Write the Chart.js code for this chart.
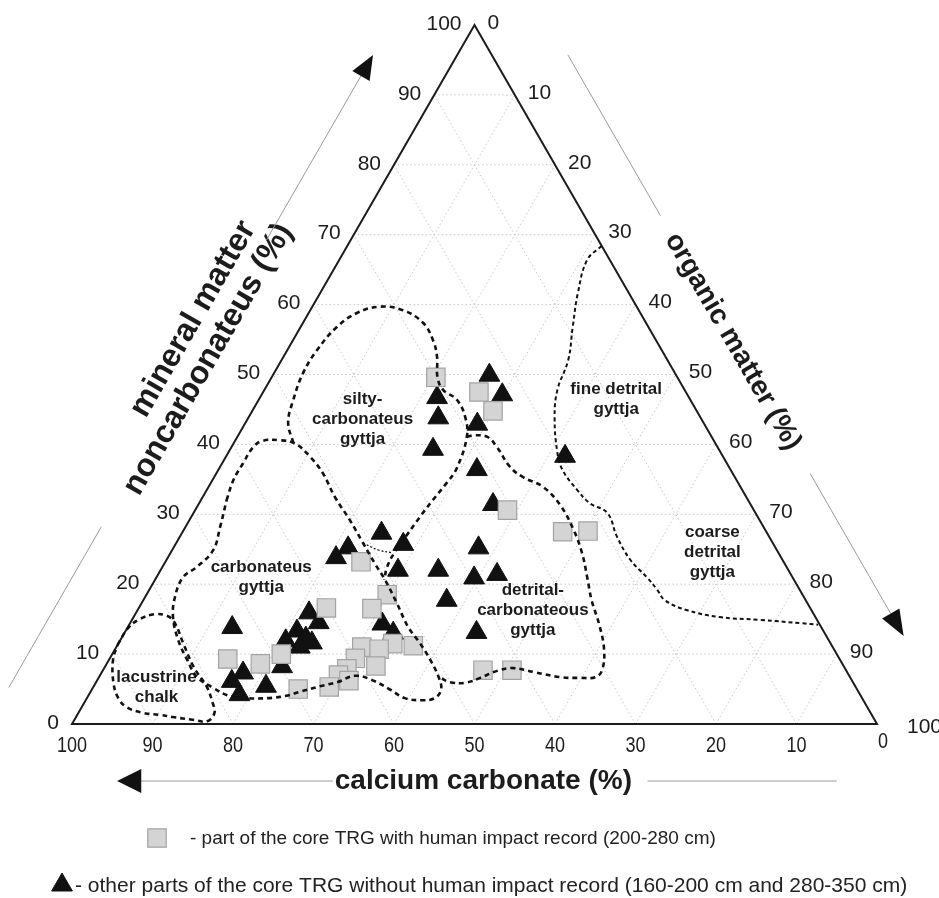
<!DOCTYPE html>
<html>
<head>
<meta charset="utf-8">
<title>Ternary diagram TRG core</title>
<script src="https://cdn.jsdelivr.net/npm/chart.js@4.4.1/dist/chart.umd.min.js"></script>
<style>
  html, body { margin: 0; padding: 0; background: #fff; }
  #c { display: block; }
</style>
</head>
<body>
<canvas id="c" width="939" height="898"></canvas>
<script>
"use strict";

// ── data: mineral matter (%) and organic matter (%) ; CaCO3 = 100 - both ──
const TICKS = [0, 10, 20, 30, 40, 50, 60, 70, 80, 90, 100];

// squares - part of the core with human impact record (200-280 cm)
const humanMineral = [49.6, 47.5, 44.8, 30.6, 27.5, 27.6, 23.2, 18.5, 16.5, 16.6, 10.0, 9.3, 8.6,
  5.0, 11.5, 11.2, 11.0, 10.7, 9.4, 8.3, 7.9, 7.0, 6.2, 5.3, 7.7, 7.7];
const humanOrganic = [20.4, 26.8, 29.9, 38.8, 47.2, 50.3, 24.3, 29.9, 29.0, 23.3, 21.0, 14.7, 19.1,
  25.6, 34.1, 36.8, 30.5, 32.8, 30.5, 33.6, 30.2, 29.6, 31.3, 29.3, 47.2, 50.8];

// triangles - other parts of the core (160-200 cm and 280-350 cm)
const otherMineral = [49.9, 47.1, 46.7, 43.8, 42.9, 39.3, 38.3, 36.4, 31.4, 25.2, 22.0, 20.9, 21.4,
  17.7, 13.1, 27.3, 25.2, 23.8, 25.7, 22.0, 15.9, 13.8, 14.3, 13.0, 14.5, 13.3, 12.3, 11.9, 11.6,
  11.0, 8.2, 7.3, 6.1, 5.4, 4.2];
const otherOrganic = [26.9, 29.9, 22.0, 23.6, 28.9, 25.2, 42.1, 32.1, 36.6, 37.9, 34.5, 39.5, 42.1,
  37.7, 43.7, 24.8, 21.7, 20.9, 28.3, 29.5, 21.5, 13.0, 31.4, 33.4, 23.4, 21.3, 22.9, 20.6, 24.0,
  22.8, 22.0, 17.6, 16.8, 21.4, 18.7];

// field boundaries as [mineral, organic]
const siltyBoundary = [[40.2, 7.4], [43.1, 5.3], [46.4, 4.3], [50.2, 3.6], [53.5, 3.7], [56.8, 4.5],
  [58.8, 6.0], [59.7, 8.4], [59.2, 11.5], [57.4, 14.9], [54.9, 17.4], [52.5, 19.1], [49.6, 20.6],
  [47.8, 22.2], [46.4, 24.6], [43.9, 26.9], [41.1, 28.5], [36.6, 29.5], [34.5, 29.3], [32.0, 28.8],
  [29.6, 28.4], [27.2, 28.1], [24.9, 27.8], [22.5, 27.9], [20.6, 28.5]];
const carbonateusBoundary = [[32.0, 3.2], [34.9, 2.6], [37.3, 2.6], [39.6, 2.7], [40.5, 3.4], [40.6, 5.5],
  [40.1, 7.7], [38.2, 10.5], [35.9, 13.2], [32.5, 16.4], [29.2, 19.9], [26.0, 23.1], [23.0, 26.1],
  [20.6, 28.6], [17.3, 31.7], [13.9, 34.8], [11.6, 37.4], [9.2, 39.9], [6.7, 42.2], [4.9, 43.4],
  [3.7, 43.2], [3.4, 41.8], [3.7, 39.5], [4.9, 37.1], [6.3, 34.1], [6.9, 31.7], [6.0, 30.0],
  [5.4, 28.1], [4.6, 26.0], [4.0, 24.5], [3.7, 22.4], [3.7, 19.9], [4.1, 17.3], [5.2, 14.9],
  [6.7, 12.2], [9.2, 9.7], [12.0, 7.2], [15.3, 4.9], [18.2, 3.7], [21.0, 3.3], [22.5, 4.3],
  [24.9, 5.1], [28.2, 4.3], [32.0, 3.2]];
const detritalCarbBoundary = [[41.1, 28.5], [41.3, 29.4], [41.1, 31.0], [39.6, 33.0], [36.8, 36.0],
  [35.3, 38.4], [33.9, 41.6], [31.3, 45.0], [27.8, 48.4], [24.5, 51.1], [21.0, 53.5], [17.7, 55.7],
  [14.2, 58.4], [10.6, 60.8], [7.7, 62.0], [6.7, 61.7], [6.6, 59.8], [6.7, 57.3], [7.4, 53.8],
  [8.0, 50.8], [7.6, 49.0], [6.6, 47.4], [5.9, 45.9], [6.0, 43.9], [6.6, 42.5]];
const fineDetritalBoundary = [[68.4, 31.6], [66.4, 30.8], [61.7, 32.0], [56.8, 33.8], [52.1, 35.6],
  [47.8, 36.4], [43.9, 38.0], [38.8, 40.9], [36.3, 42.8], [33.5, 46.0], [31.6, 48.5], [30.2, 51.4],
  [26.8, 54.3], [23.5, 57.6], [21.0, 60.9], [19.2, 63.1], [17.7, 64.8], [16.3, 68.2], [15.3, 72.8],
  [14.9, 78.0], [14.4, 83.6], [14.2, 85.6]];
const chalkBoundary = [[11.3, 0.0], [13.7, 0.1], [15.0, 0.9], [15.7, 2.4], [15.5, 4.0], [14.6, 5.4],
  [11.6, 8.0], [8.2, 11.0], [5.3, 14.1], [3.1, 15.9], [1.6, 16.9], [0.4, 16.6], [0.6, 14.7],
  [1.0, 12.0], [1.3, 10.3], [1.6, 8.0], [2.4, 5.6], [3.7, 3.9], [5.9, 2.2], [9.2, 0.5], [11.3, 0.0]];
const siltyBottomLink = [[25.9, 23.2], [24.9, 25.6], [24.5, 27.5]];

// field names: [mineral, organic] anchor, lines of text
const fieldLabels = [
  { at: [43.6, 14.3], lines: ["silty-", "carbonateus", "gyttja"] },
  { at: [21.0, 13.0], lines: ["carbonateus", "gyttja"] },
  { at: [46.4, 44.4], lines: ["fine detrital", "gyttja"] },
  { at: [24.5, 67.3], lines: ["coarse", "detrital", "gyttja"] },
  { at: [16.3, 49.1], lines: ["detrital-", "carbonateous", "gyttja"] },
  { at: [5.2, 7.9], lines: ["lacustrine", "chalk"] }
];

const LEGEND_HUMAN = "- part of the core TRG with human impact record (200-280 cm)";
const LEGEND_OTHER = "- other parts of the core TRG without human impact record (160-200 cm and 280-350 cm)";

// ── ternary -> cartesian (base 0..100, height 0..86.6) ──
const H = Math.sqrt(3) / 2;
function toXY(m, o) { return { x: o + m / 2, y: m * H }; }

const INK = "#1c1c1c";
const FONT = "'Liberation Sans', Arial, sans-serif";

const SQUARE = { pointStyle: "rect", radius: 13, fill: "#d4d4d4", border: "#a3a3a3", bw: 1.2 };
const TRIANGLE = { pointStyle: "triangle", radius: 12, fill: "#111", border: "#111", bw: 1 };

function boundary(points, dash, width) {
  return {
    data: points.map(([m, o]) => toXY(m, o)),
    showLine: true,
    borderColor: "#111",
    borderWidth: width,
    borderDash: dash,
    pointRadius: 0,
    pointHoverRadius: 0,
    tension: 0.4,
    fill: false,
    order: 0
  };
}

function markers(mineral, organic, st) {
  return {
    data: mineral.map((m, i) => toXY(m, organic[i])),
    showLine: false,
    pointStyle: st.pointStyle,
    pointRadius: st.radius,
    pointHoverRadius: st.radius,
    backgroundColor: st.fill,
    borderColor: st.border,
    borderWidth: st.bw,
    order: 1
  };
}

const ternaryFrame = {
  id: "ternaryFrame",
  beforeDatasetsDraw(chart) {
    const ctx = chart.ctx, sx = chart.scales.x, sy = chart.scales.y;
    const P = (m, o) => { const p = toXY(m, o); return [sx.getPixelForValue(p.x), sy.getPixelForValue(p.y)]; };
    const seg = (a, b) => { ctx.beginPath(); ctx.moveTo(a[0], a[1]); ctx.lineTo(b[0], b[1]); ctx.stroke(); };
    const leftAt = (s, n) => { const b = P(100 * s, 0); return [b[0] - 0.866 * n, b[1] - 0.5 * n]; };
    const rightAt = (s, n) => { const b = P(100 - 100 * s, 100 * s); return [b[0] + 0.866 * n, b[1] - 0.5 * n]; };
    const rotText = (txt, pt, ang) => {
      ctx.save(); ctx.translate(pt[0], pt[1]); ctx.rotate(ang); ctx.fillText(txt, 0, 0); ctx.restore();
    };

    ctx.save();

    // dotted grid every 10 %
    ctx.strokeStyle = "#c6c6c6";
    ctx.lineWidth = 1;
    ctx.setLineDash([1.5, 2.5]);
    TICKS.slice(1, -1).forEach(k => {
      seg(P(k, 0), P(k, 100 - k));
      seg(P(0, k), P(100 - k, k));
      seg(P(0, 100 - k), P(100 - k, 0));
    });
    ctx.setLineDash([]);

    // triangle outline
    ctx.strokeStyle = INK;
    ctx.lineWidth = 2;
    ctx.lineJoin = "miter";
    const A = P(0, 0), B = P(0, 100), T = P(100, 0);
    ctx.beginPath();
    ctx.moveTo(A[0], A[1]); ctx.lineTo(B[0], B[1]); ctx.lineTo(T[0], T[1]); ctx.closePath();
    ctx.stroke();

    // tick labels
    ctx.fillStyle = INK;
    ctx.font = "21px " + FONT;
    ctx.textBaseline = "middle";
    TICKS.forEach(v => {
      const l = P(v, 0);
      ctx.textAlign = "right";
      ctx.fillText(String(v), l[0] - 13, l[1] - 1);
      const r = P(100 - v, v);
      ctx.textAlign = "left";
      if (v === 100) ctx.fillText(String(v), r[0] + 30, r[1] + 3);
      else ctx.fillText(String(v), r[0] + 13, r[1] - 2);
    });
    ctx.textAlign = "center";
    TICKS.forEach(v => {
      const b = P(0, 100 - v);
      ctx.save();
      ctx.translate(b[0] + (v === 0 ? 6 : 0), b[1] + (v === 0 ? 18 : 22));
      ctx.scale(0.82, 1);
      ctx.font = "22px " + FONT;
      ctx.fillText(String(v), 0, 0);
      ctx.restore();
    });

    // axis titles
    ctx.textAlign = "center";
    ctx.fillStyle = INK;
    ctx.font = "bold 32px " + FONT;
    rotText("mineral matter", leftAt(0.51, 97), -Math.PI / 3);
    rotText("noncarbonateus (%)", leftAt(0.476, 64), -Math.PI / 3);
    ctx.font = "bold 28px " + FONT;
    rotText("organic matter (%)", rightAt(0.50, 66), Math.PI / 3);
    const bt = [sx.getPixelForValue(51.1), A[1] + 57];
    ctx.fillText("calcium carbonate (%)", bt[0], bt[1]);

    // direction arrows (thin grey lines with black heads)
    ctx.strokeStyle = "#9a9a9a";
    ctx.lineWidth = 1;
    seg(leftAt(0.0, 73), leftAt(0.23, 73));
    seg(leftAt(0.64, 73), leftAt(0.875, 73));
    seg(rightAt(0.09, 66), rightAt(0.32, 66));
    seg(rightAt(0.69, 67), rightAt(0.89, 67));
    seg([sx.getPixelForValue(8.5), bt[1]], [sx.getPixelForValue(32.4), bt[1]]);
    seg([sx.getPixelForValue(71.5), bt[1]], [sx.getPixelForValue(95), bt[1]]);

    ctx.fillStyle = "#111";
    const head = (tip, base, ux, uy, hw) => {
      ctx.beginPath();
      ctx.moveTo(tip[0], tip[1]);
      ctx.lineTo(base[0] + ux * hw, base[1] + uy * hw);
      ctx.lineTo(base[0] - ux * hw, base[1] - uy * hw);
      ctx.closePath(); ctx.fill();
    };
    head(leftAt(0.905, 73), leftAt(0.875, 73), 0.866, 0.5, 10);
    head(rightAt(0.922, 67), rightAt(0.89, 67), 0.866, -0.5, 10);
    head([sx.getPixelForValue(5.6), bt[1]], [sx.getPixelForValue(8.6), bt[1]], 0, 1, 12);

    // field names
    ctx.font = "bold 17px " + FONT;
    ctx.fillStyle = INK;
    ctx.textAlign = "center";
    fieldLabels.forEach(f => {
      const c = P(f.at[0], f.at[1]);
      const top = c[1] - (f.lines.length - 1) * 10;
      f.lines.forEach((ln, i) => ctx.fillText(ln, c[0], top + i * 20));
    });

    // legend
    const y1 = A[1] + 114, y2 = A[1] + 161;
    [[SQUARE, 157, y1, 190, LEGEND_HUMAN, 19], [TRIANGLE, 62, y2, 75, LEGEND_OTHER, 21]].forEach(([st, mx, my, tx, txt, fs]) => {
      ctx.fillStyle = st.fill; ctx.strokeStyle = st.border; ctx.lineWidth = st.bw;
      Chart.helpers.drawPoint(ctx, { pointStyle: st.pointStyle, radius: st.radius, rotation: 0, borderWidth: st.bw }, mx, my);
      ctx.fillStyle = "#222";
      ctx.font = fs + "px " + FONT;
      ctx.textAlign = "left";
      ctx.fillText(txt, tx, my + 1);
    });

    ctx.restore();
  }
};

function boot() {
  new Chart(document.getElementById("c"), {
    type: "scatter",
    data: {
      datasets: [
        boundary(siltyBoundary, [5, 4], 2.6),
        boundary(carbonateusBoundary, [5, 4], 2.6),
        boundary(detritalCarbBoundary, [5, 4], 2.6),
        boundary(fineDetritalBoundary, [4, 3], 2.0),
        boundary(chalkBoundary, [5, 4], 2.6),
        boundary(siltyBottomLink, [2, 2], 1.2),
        markers(humanMineral, humanOrganic, SQUARE),
        markers(otherMineral, otherOrganic, TRIANGLE)
      ]
    },
    options: {
      responsive: false,
      animation: false,
      events: [],
      layout: { padding: { left: 72, right: 62, top: 25, bottom: 174 } },
      scales: {
        x: { type: "linear", min: 0, max: 100, display: false },
        y: { type: "linear", min: 0, max: 100 * H, display: false }
      },
      plugins: { legend: { display: false }, tooltip: { enabled: false } }
    },
    plugins: [ternaryFrame]
  });
}

document.readyState === "loading"
  ? document.addEventListener("DOMContentLoaded", boot)
  : boot();
</script>
</body>
</html>
